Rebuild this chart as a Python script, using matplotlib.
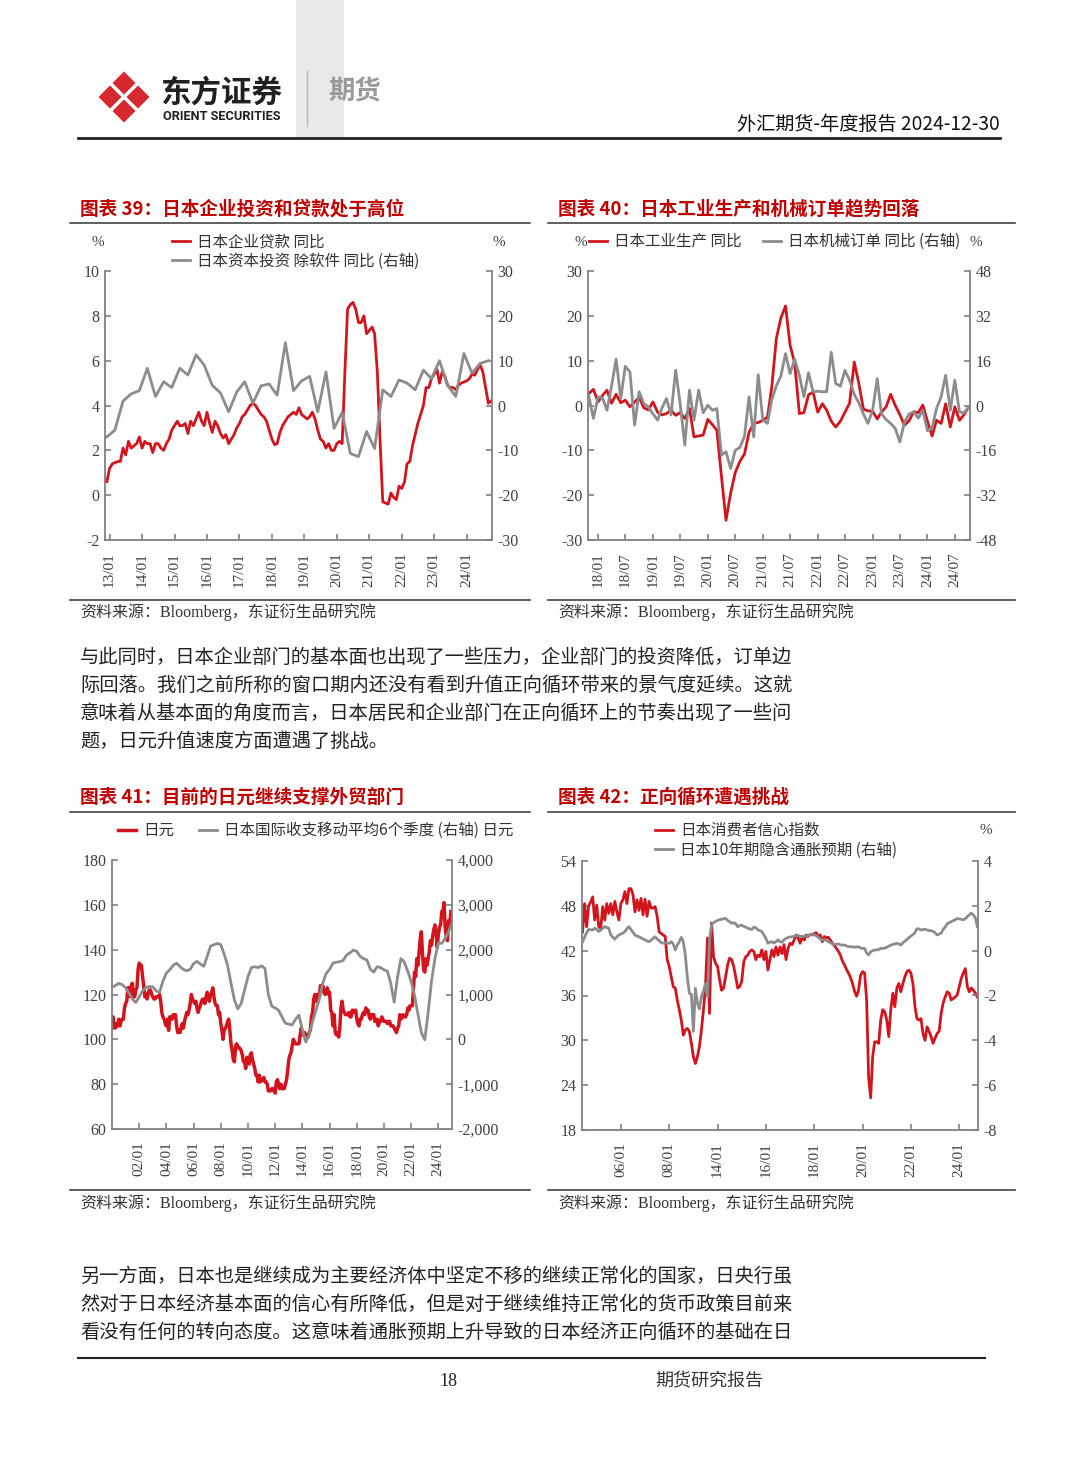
import numpy as np
import pandas as pd
import matplotlib
matplotlib.use("Agg")
import matplotlib.pyplot as plt
import matplotlib.dates as mdates
from matplotlib.patches import RegularPolygon, Rectangle
from matplotlib.ticker import FuncFormatter

plt.rcParams['font.family'] = ['Liberation Serif', 'Noto Sans CJK SC']
plt.rcParams['axes.unicode_minus'] = False

W, H = 1080, 1466
RED = '#d3141c'
GRAY = '#8c8c8c'
AXC = '#808080'
TRED = '#c00000'
CJK = ['Noto Sans CJK SC', 'DejaVu Sans']

# ---------- chart 39: loans vs capex ----------
loan_start = '2012-12-01'
loan_yoy = [0.6, 1.2, 1.4, 1.45, 1.5, 1.5, 2.1, 1.8, 2.4, 2.1, 2.2, 2.3,
            2.6, 2.1, 2.4, 2.3, 2.3, 1.9, 2.3, 2.3, 2.1, 2.0, 2.3, 2.5,
            2.9, 3.1, 3.3, 3.1, 3.1, 3.2, 2.75, 3.3, 3.1, 3.4, 3.7, 3.3,
            3.1, 3.7, 3.2, 2.8, 3.3, 3.1, 2.75, 2.55, 2.7, 2.3, 2.5, 2.7,
            3.0, 3.2, 3.5, 3.6, 3.8, 4.0, 4.1, 4.0, 3.8, 3.6, 3.5, 3.3,
            2.9, 2.5, 2.25, 2.3, 2.8, 3.1, 3.3, 3.5, 3.6, 3.7, 3.6, 3.9,
            3.6, 3.5, 3.4, 3.5, 3.7, 3.4, 2.9, 2.5, 2.4, 2.1, 2.3, 2.0,
            2.0, 2.3, 2.4, 2.3, 5.5, 8.3, 8.5, 8.6, 8.3, 7.7, 7.7, 8.0,
            7.2, 7.35, 7.5, 7.2, 5.5, 2.5, -0.3, -0.35, -0.4, 0.1, -0.1, -0.2,
            0.4, 0.3, 0.6, 1.4, 1.5, 2.2, 2.7, 3.2, 3.6, 4.0, 4.8, 4.8,
            5.2, 5.4, 5.6, 5.0, 5.5, 5.3, 4.9, 4.8, 4.8, 4.7, 4.9, 5.0,
            5.05, 5.1, 5.2, 5.4, 5.35, 5.6, 5.8, 5.5, 4.8, 4.1, 4.2]
capex_yoy = [-7.0, -5.5, 1.0, 2.6, 3.3, 8.3, 2.0, 5.3, 4.0, 8.3, 6.8, 11.3,
             9.0, 4.5, 2.8, -1.4, 3.0, 5.3, 0.5, 4.4, 4.8, 2.3, 14.0, 3.3,
             5.5, 6.5, -1.4, 7.5, -5.1, -1.5, -10.7, -11.4, -5.8, -9.6, 3.5, 2.0,
             5.7, 5.0, 3.5, 7.9, 6.0, 10.0, 4.5, 2.0, 11.6, 7.2, 9.4, 10.0]

# ---------- chart 40: industrial production vs machinery orders ----------
ip_start = '2017-11-01'
ip_yoy = [2.7, 3.6, 0.8, 2.3, 3.4, 0.5, 2.5, 0.6, 1.2, -0.3, 0.8, 1.8,
          -0.5, -1.0, 0.8, -1.5, -2.1, -1.8, -1.0, -2.2, -1.6, -2.9, -0.7, -7.0,
          -6.8, -6.6, -3.1, -4.3, -5.5, -15.9, -25.6, -19.5, -15.0, -12.5, -10.8, -6.0,
          -4.0, -3.8, -3.3, -2.6, 4.0, 15.0, 19.5, 22.2, 13.5, 9.4, -1.8, -1.6,
          2.4, 3.0, -1.5, 0.4, -1.0, -3.5, -4.8, -3.5, -1.5, 0.5, 9.7, 5.0,
          -0.8, -1.2, -1.3, -3.0, -1.5, -0.3, 2.5, 0.0, -2.0, -4.4, -3.4, -1.4,
          -1.6, 0.1, -3.5, -6.8, -3.3, -4.0, 0.4, -4.8, -0.3, -3.3, -2.0, -0.3]
orders_yoy = [3.1, -4.6, 3.1, 2.5, -1.7, 7.0, 16.5, 2.5, 14.0, 12.0, -7.0, 4.9,
              0.7, -0.5, -3.0, -5.2, -1.0, 2.5, -3.4, 12.6, 0.7, -14.1, 5.5, -5.2,
              5.5, -2.6, 0.1, -1.7, -1.1, -17.7, -16.5, -22.5, -16.0, -15.0, -11.0, 3.1,
              -11.2, 11.0, -5.2, -6.4, 2.0, 7.0, 10.5, 18.5, 11.4, 16.5, 10.8, 3.1,
              11.7, 4.9, 5.1, 4.9, 4.9, 19.0, 7.8, 6.9, 12.6, 9.0, 4.0, 1.0,
              -3.0, -6.4, -1.7, 9.6, -3.0, -5.0, -6.4, -8.2, -13.0, -6.0, -3.0, -2.3,
              -4.5, -1.7, -9.0, -8.0, -1.1, 3.1, 10.8, -1.7, 9.0, -2.3, -2.6, -0.5]

# ---------- chart 41: USDJPY vs balance of payments ----------
fx_start = '2000-01-01'
usdjpy = [105, 110, 106, 105, 107, 106, 109, 106, 108, 109, 109, 114,
          116, 117, 123, 123, 119, 124, 125, 119, 119, 122, 123, 131,
          134, 133, 133, 128, 124, 119, 120, 118, 121, 122, 122, 120,
          119, 118, 118, 119, 119, 119, 120, 117, 112, 110, 109, 107,
          106, 109, 104, 110, 110, 109, 111, 110, 111, 106, 103, 104,
          103, 105, 107, 105, 108, 110, 112, 111, 113, 116, 120, 118,
          117, 116, 117, 114, 112, 114, 115, 117, 118, 117, 116, 119,
          121, 119, 117, 120, 121, 123, 119, 116, 115, 115, 111, 112,
          107, 104, 100, 104, 105, 106, 108, 109, 104, 98, 95, 91,
          90, 97, 98, 97, 96, 96, 95, 93, 90, 90, 87, 92,
          90, 89, 93, 94, 91, 89, 87, 84, 84, 81, 84, 81,
          82, 82, 83, 81, 81, 80, 77, 77, 77, 78, 78, 77,
          76, 81, 82, 80, 78, 80, 78, 78, 78, 80, 82, 86,
          91, 93, 94, 97, 100, 99, 98, 98, 98, 98, 102, 105,
          102, 102, 103, 102, 102, 101, 103, 104, 110, 112, 118, 120,
          117, 120, 120, 119, 124, 122, 124, 121, 120, 121, 123, 120,
          121, 113, 112, 106, 111, 103, 102, 103, 101, 105, 114, 117,
          113, 112, 111, 111, 111, 112, 110, 110, 113, 113, 112, 113,
          109, 107, 106, 109, 109, 111, 112, 111, 114, 113, 113, 110,
          109, 111, 111, 111, 108, 108, 109, 106, 108, 108, 110, 109,
          108, 108, 108, 107, 108, 108, 106, 106, 106, 105, 104, 103,
          105, 106, 111, 109, 110, 111, 110, 110, 111, 114, 113, 115,
          115, 115, 122, 130, 128, 136, 133, 139, 145, 148, 138, 131,
          130, 136, 133, 136, 139, 144, 142, 146, 149, 151, 148, 141,
          147, 150, 151, 157, 157, 161, 150, 146, 144, 153, 150, 157]
bop_ma6q = [1160, 1200, 1250, 1220, 1150, 1030, 900, 820, 950, 1080,
            1150, 1180, 1170, 1080, 1050, 1300, 1480, 1550, 1650, 1700,
            1620, 1560, 1530, 1560, 1690, 1740, 1680, 1630, 1850, 2080,
            2110, 2140, 2110, 1900, 1650, 1250, 880, 680, 800, 1100,
            1400, 1600, 1620, 1600, 1640, 1580, 1000, 740, 700, 650,
            500, 360, 340, 320, 450, 540, 200, -60, 100, 400,
            650, 900, 1250, 1470, 1560, 1700, 1720, 1730, 1760, 1880,
            1930, 1990, 1960, 1850, 1800, 1770, 1560, 1500, 1620, 1600,
            1550, 1520, 1250, 830, 1400, 1800, 1720, 1520, 1280, 980,
            560, 150, -10, 600, 1300, 1800, 2150, 2140, 2250, 2400,
            2600]

# ---------- chart 42: consumer confidence vs 10y breakeven ----------
conf_idx = [44.5, 48.3, 45.2, 48.0, 48.5, 49.2, 46.1, 48.1, 45.2, 45.0,
            47.9, 46.1, 48.3, 47.0, 48.3, 46.8, 48.6, 47.2, 46.1, 48.3,
            48.8, 49.9, 48.3, 50.3, 50.3, 49.5, 47.2, 48.8, 47.4, 49.0,
            46.8, 48.9, 46.6, 48.6, 47.7, 47.7, 47.9, 46.6, 44.5, 44.3,
            44.1, 43.9, 40.8, 39.9, 38.5, 37.2, 37.0, 35.4, 34.1, 32.7,
            30.7, 31.4, 31.6, 31.2, 29.6, 27.8, 26.9, 27.8, 29.2, 31.4,
            34.1, 37.2, 43.7, 33.6, 45.7, 41.2, 40.3, 39.9, 38.1, 36.7,
            37.0, 38.5, 40.1, 41.0, 40.8, 39.9, 38.5, 37.0, 37.2, 37.9,
            40.5, 41.2, 41.4, 41.9, 42.1, 41.9, 40.8, 41.4, 41.2, 42.1,
            40.8, 41.9, 39.4, 40.8, 42.1, 41.2, 42.5, 41.4, 42.5, 41.6,
            42.8, 40.8, 42.3, 43.0, 42.8, 43.4, 44.1, 43.7, 43.0, 43.9,
            43.4, 44.1, 43.9, 44.2, 44.1, 44.3, 44.4, 43.9, 44.1, 43.2,
            43.9, 43.7, 43.8, 43.4, 43.0, 42.7, 42.3, 41.9, 41.4, 40.6,
            40.1, 39.5, 39.0, 38.4, 37.6, 36.6, 35.9, 36.7, 38.7, 39.2,
            39.0, 35.4, 25.0, 22.3, 27.8, 29.8, 29.8, 29.6, 32.7, 34.1,
            33.8, 32.7, 30.5, 34.1, 36.3, 34.5, 37.0, 37.6, 36.5, 37.6,
            38.5, 39.2, 39.4, 39.0, 37.6, 34.5, 32.9, 32.7, 32.9, 30.9,
            30.0, 31.8, 31.2, 30.5, 29.6, 30.3, 30.9, 31.2, 33.6, 35.0,
            35.8, 36.5, 36.3, 35.4, 35.6, 35.8, 36.1, 37.2, 38.3, 39.0,
            39.6, 37.2, 36.5, 37.0, 36.7, 36.3, 35.8]
bei_10y = [0.40, 0.60, 0.80, 0.95, 0.93, 0.92, 1.00, 0.95, 0.85, 0.92,
           1.00, 1.07, 1.03, 1.00, 0.70, 0.60, 0.51, 0.62, 0.70, 0.74,
           0.78, 0.85, 0.98, 1.07, 0.95, 0.82, 0.70, 0.65, 0.62, 0.57,
           0.52, 0.48, 0.43, 0.40, 0.47, 0.55, 0.62, 0.52, 0.45, 0.36,
           0.33, 0.36, 0.34, 0.33, 0.40, 0.30, 0.03, 0.25, 0.40, 0.59,
           0.40, -0.20, -1.20, -1.90, -1.95, -3.60, -1.68, -2.35, -2.60, -2.05,
           -1.80, -1.46, -2.05, 0.50, 1.15, 1.25, 1.30, 1.35, 1.38, 1.40,
           1.42, 1.44, 1.35, 1.29, 1.22, 1.25, 1.20, 1.07, 1.12, 1.14,
           1.08, 1.05, 1.00, 0.97, 0.95, 1.05, 1.02, 0.93, 0.90, 0.85,
           0.70, 0.55, 0.33, 0.38, 0.40, 0.34, 0.40, 0.48, 0.40, 0.38,
           0.48, 0.55, 0.59, 0.61, 0.62, 0.64, 0.67, 0.68, 0.64, 0.63,
           0.65, 0.65, 0.66, 0.72, 0.74, 0.70, 0.67, 0.60, 0.52, 0.48,
           0.50, 0.45, 0.40, 0.35, 0.31, 0.28, 0.29, 0.30, 0.26, 0.25,
           0.25, 0.21, 0.18, 0.18, 0.17, 0.15, 0.17, 0.17, 0.12, 0.10,
           0.10, -0.10, -0.19, -0.05, 0.00, 0.03, 0.03, 0.05, 0.10, 0.10,
           0.11, 0.15, 0.20, 0.24, 0.28, 0.30, 0.33, 0.30, 0.25, 0.35,
           0.42, 0.50, 0.58, 0.65, 0.72, 0.80, 0.98, 0.97, 0.92, 0.94,
           0.95, 0.92, 0.90, 0.89, 0.86, 0.80, 0.70, 0.74, 0.78, 0.95,
           1.05, 1.20, 1.25, 1.29, 1.34, 1.38, 1.43, 1.42, 1.40, 1.38,
           1.42, 1.52, 1.60, 1.67, 1.60, 1.45, 1.07]
# months of chart 42: the source series skips 2010-2013
conf_months = list(pd.date_range('2004-06-01', '2009-12-01', freq='MS')) + \
    list(pd.date_range('2014-01-01', '2024-10-01', freq='MS'))
conf_ticks = ['06/01', '08/01', '14/01', '16/01', '18/01', '20/01', '22/01', '24/01']

para1 = ['与此同时，日本企业部门的基本面也出现了一些压力，企业部门的投资降低，订单边',
         '际回落。我们之前所称的窗口期内还没有看到升值正向循环带来的景气度延续。这就',
         '意味着从基本面的角度而言，日本居民和企业部门在正向循环上的节奏出现了一些问',
         '题，日元升值速度方面遭遇了挑战。']
para2 = ['另一方面，日本也是继续成为主要经济体中坚定不移的继续正常化的国家，日央行虽',
         '然对于日本经济基本面的信心有所降低，但是对于继续维持正常化的货币政策目前来',
         '看没有任何的转向态度。这意味着通胀预期上升导致的日本经济正向循环的基础在日']


def box(l, t, r, b):
    return [l / W, 1 - b / H, (r - l) / W, (b - t) / H]


def style(ax, axr, ylim, yticks, ylim_r, yticks_r):
    for s in ['top', 'right']:
        ax.spines[s].set_visible(False)
    for s in ['top', 'left', 'bottom']:
        axr.spines[s].set_visible(False)
    for sp in [ax.spines['left'], ax.spines['bottom'], axr.spines['right']]:
        sp.set_color(AXC)
        sp.set_linewidth(1.3)
    ax.set_ylim(*ylim)
    ax.set_yticks(yticks)
    axr.set_ylim(*ylim_r)
    axr.set_yticks(yticks_r)
    ax.tick_params(axis='y', direction='in', length=4, width=1.2, color=AXC,
                   labelsize=11.5, labelcolor='#404040', pad=4)
    axr.tick_params(axis='y', direction='in', length=4, width=1.2, color=AXC,
                    labelsize=11.5, labelcolor='#404040', pad=4)
    ax.tick_params(axis='x', direction='in', length=4, width=1.2, color=AXC,
                   labelsize=11, labelcolor='#404040', labelrotation=90, pad=9)
    ax.set_facecolor('none')


fig = plt.figure(figsize=(W / 100, H / 100), dpi=100)
bg = fig.add_axes([0, 0, 1, 1])
bg.set_xlim(0, W)
bg.set_ylim(H, 0)
bg.axis('off')

# header
bg.add_patch(Rectangle((296, 0), 48, 138, color='#e9e9e9', lw=0))
for dx, dy in [(0, -14), (0, 14), (-14, 0), (14, 0)]:
    bg.add_patch(RegularPolygon((124 + dx, 97 + dy), 4, radius=11.5, orientation=0,
                                facecolor='#d7282f', edgecolor='none'))
bg.text(160, 93, '东方证券', fontsize=22, fontweight='bold', family=CJK,
        color='#231f20', va='center', ha='left')
bg.text(163, 117, 'ORIENT SECURITIES', fontsize=9.2, fontweight='bold',
        family=['Roboto', 'DejaVu Sans'], color='#231f20', va='center', ha='left')
bg.plot([307, 307], [71, 126], color='#c9b896', lw=1)
bg.text(328, 92, '期货', fontsize=19, fontweight='bold', family=CJK,
        color='#9a9a9a', va='center', ha='left')
bg.text(1000, 124, '外汇期货-年度报告 2024-12-30', fontsize=13.8, family=CJK,
        color='#111111', va='center', ha='right')
bg.plot([78, 1000], [138, 138], color='#222222', lw=2)

# panel frames, titles and sources
panels = [(70, 530, 209, 223, 600, 612, '图表 39：日本企业投资和贷款处于高位'),
          (548, 1015, 209, 223, 600, 612, '图表 40：日本工业生产和机械订单趋势回落'),
          (70, 530, 797, 812, 1190, 1203, '图表 41：目前的日元继续支撑外贸部门'),
          (548, 1015, 797, 812, 1190, 1203, '图表 42：正向循环遭遇挑战')]
for l, r, ty, ly, sy, sty, title in panels:
    bg.text(l + 10, ty, title, fontsize=13.4, fontweight='bold', family=CJK,
            color=TRED, va='center', ha='left')
    bg.plot([l, r], [ly, ly], color='#444444', lw=1.2)
    bg.plot([l, r], [sy, sy], color='#444444', lw=1.2)
    bg.text(l + 10, sty, '资料来源：Bloomberg，东证衍生品研究院', fontsize=11.5,
            color='#333333', va='center', ha='left')

# body text
for i, line in enumerate(para1):
    bg.text(80, 657 + 28 * i, line, fontsize=13.9, family=CJK, color='#222222',
            va='center', ha='left')
for i, line in enumerate(para2):
    bg.text(80, 1276 + 28 * i, line, fontsize=13.9, family=CJK, color='#222222',
            va='center', ha='left')

# footer
bg.plot([78, 985], [1358, 1358], color='#222222', lw=1.5)
bg.text(448, 1381, '18', fontsize=13, color='#222222', va='center', ha='center')
bg.text(655, 1381, '期货研究报告', fontsize=13, family=CJK, color='#333333',
        va='center', ha='left')


def legend(handles, labels, x, y, ncol=1, colsp=1.5):
    fig.legend(handles, labels, loc='upper left', bbox_to_anchor=(x / W, 1 - y / H),
               ncol=ncol, frameon=False, prop={'family': CJK, 'size': 11.2},
               handlelength=1.15, handletextpad=0.45, borderpad=0, borderaxespad=0,
               labelspacing=0.15, columnspacing=colsp, labelcolor='#333333')


# ---- chart 39 ----
ax = fig.add_axes(box(105, 271, 492, 540))
axr = ax.twinx()
d_loan = pd.date_range(loan_start, periods=len(loan_yoy), freq='MS')
d_capex = pd.date_range(loan_start, periods=len(capex_yoy), freq='3MS')
l1, = ax.plot(d_loan, loan_yoy, color=RED, lw=2)
l2, = axr.plot(d_capex, capex_yoy, color=GRAY, lw=2)
style(ax, axr, (-2, 10), range(-2, 11, 2), (-30, 30), range(-30, 31, 10))
ax.set_xlim(pd.Timestamp('2012-11-10'), pd.Timestamp('2024-10-12'))
ax.xaxis.set_major_locator(mdates.MonthLocator(bymonth=1))
ax.xaxis.set_major_formatter(mdates.DateFormatter('%y/%m'))
legend([l1, l2], ['日本企业贷款 同比', '日本资本投资 除软件 同比 (右轴)'], 172, 233)
bg.text(98, 242, '%', fontsize=11, color='#404040', ha='center', va='center')
bg.text(499, 242, '%', fontsize=11, color='#404040', ha='center', va='center')

# ---- chart 40 ----
ax = fig.add_axes(box(588, 271, 970, 540))
axr = ax.twinx()
d_ip = pd.date_range(ip_start, periods=len(ip_yoy), freq='MS')
l1, = ax.plot(d_ip, ip_yoy, color=RED, lw=2)
l2, = axr.plot(d_ip, orders_yoy, color=GRAY, lw=2)
style(ax, axr, (-30, 30), range(-30, 31, 10), (-48, 48), range(-48, 49, 16))
ax.set_xlim(pd.Timestamp('2017-10-26'), pd.Timestamp('2024-10-10'))
ax.xaxis.set_major_locator(mdates.MonthLocator(bymonth=[1, 7]))
ax.xaxis.set_major_formatter(mdates.DateFormatter('%y/%m'))
legend([l1, l2], ['日本工业生产 同比', '日本机械订单 同比 (右轴)'], 589, 233, ncol=2, colsp=1.4)
bg.text(581, 242, '%', fontsize=11, color='#404040', ha='center', va='center')
bg.text(976, 242, '%', fontsize=11, color='#404040', ha='center', va='center')

# ---- chart 41 ----
ax = fig.add_axes(box(112, 860, 452, 1129))
axr = ax.twinx()
d_fx = pd.date_range(fx_start, periods=len(usdjpy), freq='MS')
d_bop = pd.date_range(fx_start, periods=len(bop_ma6q), freq='QS')
l1, = ax.plot(d_fx, usdjpy, color=RED, lw=2.5)
l2, = axr.plot(d_bop, bop_ma6q, color=GRAY, lw=2)
style(ax, axr, (60, 180), range(60, 181, 20), (-2000, 4000), range(-2000, 4001, 1000))
axr.yaxis.set_major_formatter(FuncFormatter(lambda v, p: f'{v:,.0f}'))
ax.set_xlim(pd.Timestamp('2000-01-01'), pd.Timestamp('2025-01-01'))
ax.set_xticks(pd.to_datetime([f'{y}-01-01' for y in range(2002, 2025, 2)]))
ax.xaxis.set_major_formatter(mdates.DateFormatter('%y/%m'))
legend([l1, l2], ['日元', '日本国际收支移动平均6个季度 (右轴) 日元'], 118, 822, ncol=2, colsp=1.6)

# ---- chart 42 ----
ax = fig.add_axes(box(582, 861, 978, 1130))
axr = ax.twinx()
xi = np.arange(len(conf_idx))
l1, = ax.plot(xi, conf_idx, color=RED, lw=2)
l2, = axr.plot(xi, bei_10y, color=GRAY, lw=2)
style(ax, axr, (18, 54), range(18, 55, 6), (-8, 4), range(-8, 5, 2))
ax.set_xlim(-0.3, len(conf_idx) - 0.7)
tick_pos = [i for i, m in enumerate(conf_months) if m.month == 1 and m.year % 2 == 0]
ax.set_xticks(tick_pos)
ax.set_xticklabels(conf_ticks)
legend([l1, l2], ['日本消费者信心指数', '日本10年期隐含通胀预期 (右轴)'], 655, 822)
bg.text(986, 831, '%', fontsize=11, color='#404040', ha='center', va='center')

fig.savefig('out.png', dpi=100)
